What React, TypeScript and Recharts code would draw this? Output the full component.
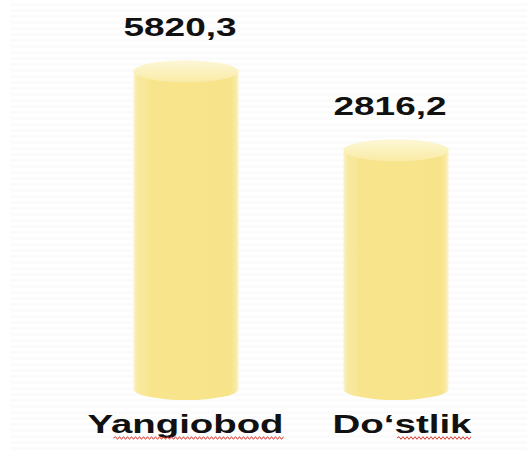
import React from "react";
import { BarChart, Bar, XAxis, YAxis, LabelList } from "recharts";

const categories = ["Yangiobod", "Do\u2018stlik"];
const values = [5820.3, 2816.2];
const valueLabels = ["5820,3", "2816,2"];
const axisMin = -6270;
const axisMax = 6100;

const data = categories.map((name, i) => ({ name, value: values[i], range: [axisMin, values[i]] }));

const RY = 11;

const Cylinder = (props: any) => {
  const { x, y, width, height } = props;
  if (width == null || height == null) return null;
  const rx = width / 2;
  const cx = x + rx;
  const bottom = y + height;
  const body = `M${x},${y} L${x},${bottom} A${rx},${RY} 0 0 0 ${x + width},${bottom} L${x + width},${y} Z`;
  return (
    <g>
      <path d={body} fill="url(#cylBody)" />
      <ellipse cx={cx} cy={y} rx={rx} ry={RY} fill="url(#cylTop)" />
    </g>
  );
};

const ValueLabel = (props: any) => {
  const { x, y, width, index } = props;
  const text = valueLabels[index];
  const cx = x + width / 2 - 6;
  return (
    <text
      x={cx}
      y={y - 35}
      textAnchor="middle"
      fontFamily="'Liberation Sans', Arial, sans-serif"
      fontWeight="bold"
      fontSize={26}
      fill="#111"
      textLength={113}
      lengthAdjust="spacingAndGlyphs"
    >
      {text}
    </text>
  );
};

const tickStyle: Record<string, { dx: number; len: number; w0: number; w1: number }> = {
  Yangiobod: { dx: 0, len: 196, w0: -72, w1: 98 },
  "Do\u2018stlik": { dx: 6.5, len: 139, w0: 1.5, w1: 76.5 },
};

const wave = (x0: number, x1: number, y: number) => {
  let d = `M${x0},${y}`;
  let up = true;
  for (let xx = x0 + 2; xx <= x1; xx += 2) {
    d += ` L${xx},${up ? y - 1.3 : y + 1.3}`;
    up = !up;
  }
  return d;
};

const CategoryTick = (props: any) => {
  const { x, payload } = props;
  const s = tickStyle[payload.value] || { dx: 0, len: 150, w0: 0, w1: 0 };
  const baseline = 433;
  return (
    <g>
      <text
        x={x + s.dx}
        y={baseline}
        textAnchor="middle"
        fontFamily="'Liberation Sans', Arial, sans-serif"
        fontWeight="bold"
        fontSize={25}
        fill="#111"
        textLength={s.len}
        lengthAdjust="spacingAndGlyphs"
      >
        {payload.value}
      </text>
      <path d={wave(x + s.w0, x + s.w1, baseline + 5)} stroke="#d9342b" strokeWidth={1} fill="none" />
    </g>
  );
};

export default function App() {
  return (
    <div style={{ position: "absolute", left: 0, top: 0, width: 527, height: 450, background: "#fff" }}>
      <div
        style={{
          position: "absolute",
          left: 10,
          top: 0,
          width: 517,
          height: 450,
          background: "repeating-linear-gradient(180deg, #ffffff 0px, #ffffff 3px, #fbfbfb 3px, #fbfbfb 6px)",
        }}
      />
      <div style={{ position: "absolute", left: 0, top: 0 }}>
        <BarChart width={527} height={450} data={data} margin={{ top: 64, right: 26.5, bottom: 0, left: 80.5 }}>
          <defs>
            <linearGradient id="cylBody" x1="0" y1="0" x2="1" y2="0">
              <stop offset="0%" stopColor="#fbf3c8" />
              <stop offset="4%" stopColor="#f8e9a0" />
              <stop offset="12%" stopColor="#f8e796" />
              <stop offset="16%" stopColor="#f7e48c" />
              <stop offset="93%" stopColor="#f7e48a" />
              <stop offset="97%" stopColor="#f8e9a2" />
              <stop offset="100%" stopColor="#fbf3c8" />
            </linearGradient>
            <linearGradient id="cylTop" x1="0" y1="0" x2="0" y2="1">
              <stop offset="0%" stopColor="#fdf7d8" />
              <stop offset="60%" stopColor="#fbf0b8" />
              <stop offset="100%" stopColor="#f9eba6" />
            </linearGradient>
          </defs>
          <XAxis
            dataKey="name"
            axisLine={false}
            tickLine={false}
            height={61}
            interval={0}
            tick={<CategoryTick />}
          />
          <YAxis hide domain={[axisMin, axisMax]} />
          <Bar dataKey="range" barSize={105} shape={<Cylinder />} isAnimationActive={false}>
            <LabelList dataKey="value" content={<ValueLabel />} />
          </Bar>
        </BarChart>
      </div>
    </div>
  );
}
